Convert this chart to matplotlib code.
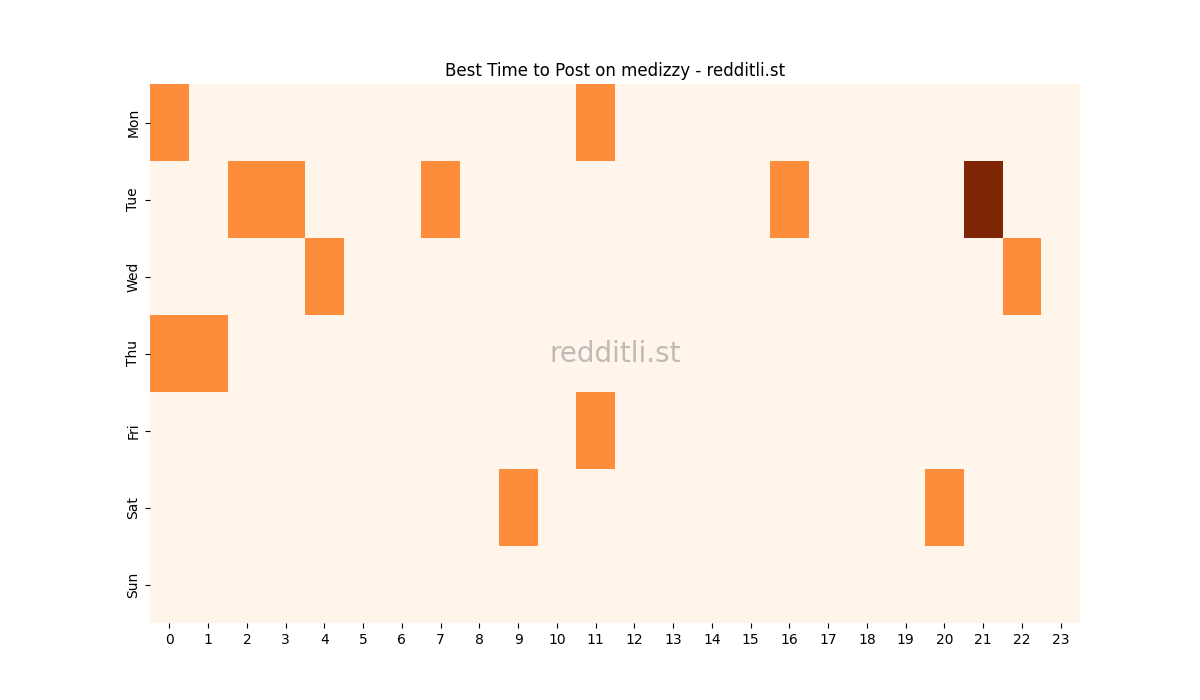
import numpy as np
import matplotlib
matplotlib.use("Agg")
import matplotlib.pyplot as plt
import seaborn as sns

# post counts per weekday / hour
days = ["Mon", "Tue", "Wed", "Thu", "Fri", "Sat", "Sun"]
hours = list(range(24))
mon = {0: 1, 11: 1}
tue = {2: 1, 3: 1, 7: 1, 16: 1, 21: 2}
wed = {4: 1, 22: 1}
thu = {0: 1, 1: 1}
fri = {11: 1}
sat = {9: 1, 20: 1}
sun = {}

grid = np.zeros((len(days), len(hours)))
for row, counts in enumerate([mon, tue, wed, thu, fri, sat, sun]):
    for h, v in counts.items():
        grid[row, h] = v

fig = plt.figure(figsize=(12, 7), dpi=100)
ax = sns.heatmap(grid, cmap="Oranges", cbar=False, xticklabels=hours, yticklabels=days)
ax.set_title("Best Time to Post on medizzy - redditli.st")
# watermark
ax.text(0.5, 0.5, "redditli.st", transform=ax.transAxes, ha="center", va="center",
        fontsize=20, color="grey", alpha=0.5)
plt.savefig("out.png")
